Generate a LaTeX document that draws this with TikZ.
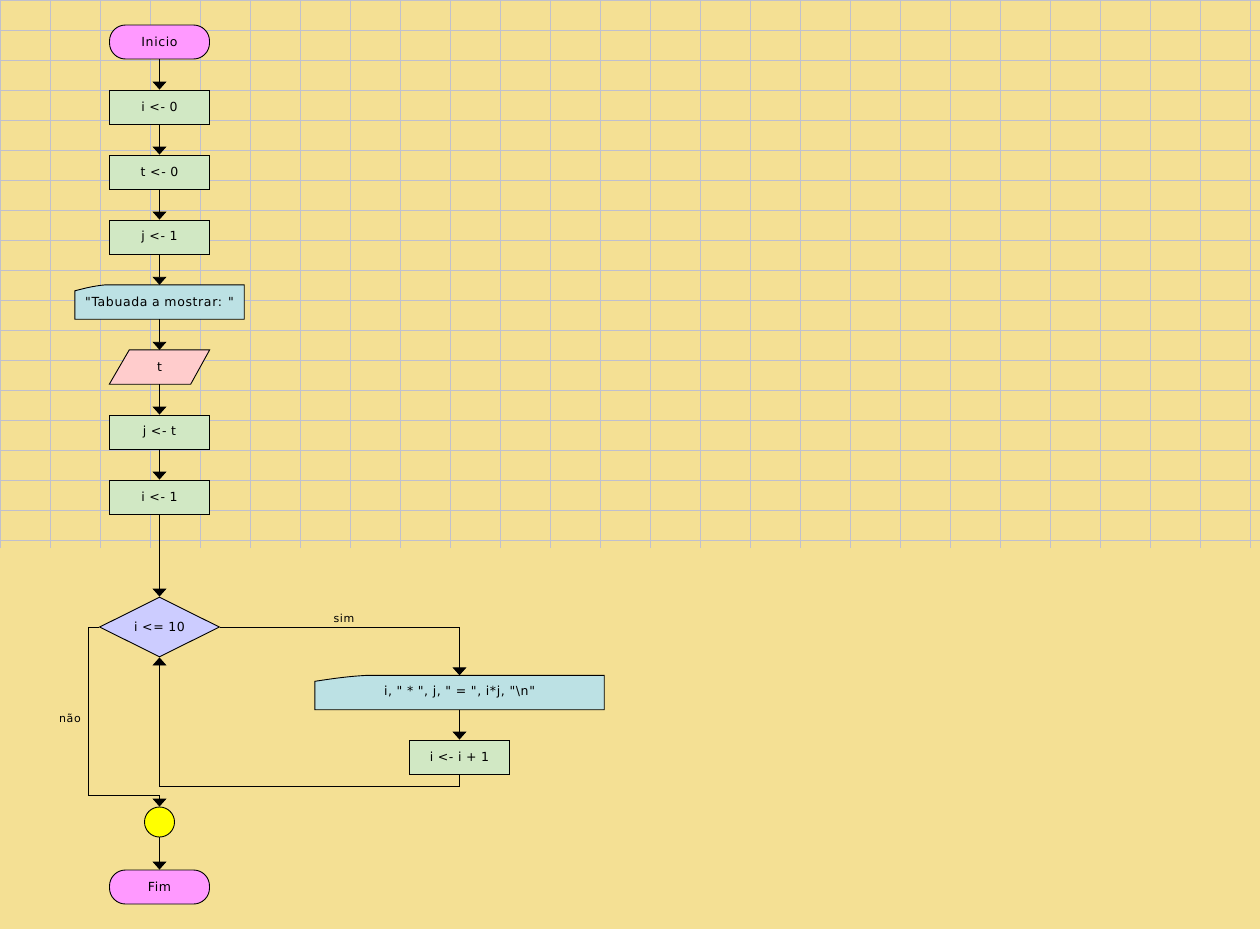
\documentclass[tikz,border=0pt]{standalone}
\usepackage{fontspec}
\usetikzlibrary{arrows.meta,shapes.geometric,calc,backgrounds}
\newfontfamily\flowfont{DejaVu Sans}[LetterSpace=5]

\definecolor{paper}{RGB}{244,224,148}
\definecolor{gridline}{RGB}{192,192,206}
\definecolor{termfill}{RGB}{255,153,255}
\definecolor{procfill}{RGB}{209,232,196}
\definecolor{dispfill}{RGB}{188,225,228}
\definecolor{inpfill}{RGB}{255,204,204}
\definecolor{decfill}{RGB}{204,204,255}
\definecolor{joinfill}{RGB}{255,255,0}

% display symbol: rectangle with a curved cut at the upper left corner
\newcommand\flowdisp[2]{%
  \draw[line width=0.9pt, fill=dispfill]
    (#1.south west) -- (#1.south east) -- (#1.north east)
    -- ($(#1.north west)+(#2,0)$)
    .. controls ($(#1.north west)+(0.55*#2,1.2)$) and ($(#1.north west)+(0.2*#2,4.5)$)
    .. ($(#1.north west)+(0,6)$) -- cycle;}

\begin{document}
\begin{tikzpicture}[x=1pt,y=-1pt,
  every node/.style={font=\flowfont\fontsize{12.5}{14}\selectfont, text=black, inner sep=0pt},
  outline/.style={draw=black, line width=0.9pt},
  termbox/.style={outline, fill=termfill, rectangle, rounded corners=16pt,
    minimum width=100pt, minimum height=34pt},
  procbox/.style={outline, fill=procfill, rectangle, minimum width=100pt, minimum height=34pt},
  dispbox/.style={rectangle, minimum height=34pt},
  inpbox/.style={rectangle, minimum width=100pt, minimum height=34pt},
  decbox/.style={outline, fill=decfill, diamond, aspect=2, minimum width=120pt, minimum height=60pt},
  joinbox/.style={outline, fill=joinfill, circle, minimum size=30pt},
  lbl/.style={font=\flowfont\fontsize{11}{13}\selectfont},
  arr/.style={draw=black, line width=0.9pt, -{Triangle[width=14pt,length=8pt]}},
  wire/.style={draw=black, line width=0.9pt}]

\useasboundingbox (0,0) rectangle (1260,929);

% nodes
\node[termbox] (start) at (159.5,42) {Inicio};
\node[procbox] (i0) at (159.5,107) {i <- 0};
\node[procbox] (t0) at (159.5,172) {t <- 0};
\node[procbox] (j1) at (159.5,237) {j <- 1};
\node[dispbox, minimum width=169pt] (ask) at (159.5,302) {"Tabuada a mostrar: "};
\node[inpbox] (readt) at (159.5,367) {t};
\node[procbox] (jt) at (159.5,432) {j <- t};
\node[procbox] (i1) at (159.5,497) {i <- 1};
\node[decbox] (cond) at (159.5,627) {i <= 10};
\node[dispbox, minimum width=289pt] (row) at (459.5,692.5) {i, " * ", j, " = ", i*j, "\textbackslash n"};
\node[procbox] (incr) at (459.5,757) {i <- i + 1};
\node[joinbox] (join) at (159.5,822) {};
\node[termbox] (finish) at (159.5,887) {Fim};

\begin{scope}[on background layer]
  \fill[paper] (0,0) rectangle (1260,929);
  % squared paper in the upper part
  \foreach \gx in {0,50,...,1250} \draw[gridline, line width=1pt] (\gx,0) -- (\gx,547.5);
  \foreach \gy in {0,30,...,540} \draw[gridline, line width=1pt] (0,\gy) -- (1260,\gy);
  % custom outlines behind their texts
  \flowdisp{ask}{31}
  \flowdisp{row}{53}
  \draw[line width=0.9pt, fill=inpfill]
    ($(readt.north west)+(20,0)$) -- (readt.north east)
    -- ($(readt.south east)+(-19,0)$) -- (readt.south west) -- cycle;
\end{scope}

% connectors
\draw[arr] (start) -- (i0);
\draw[arr] (i0) -- (t0);
\draw[arr] (t0) -- (j1);
\draw[arr] (j1) -- (ask);
\draw[arr] (ask) -- (readt);
\draw[arr] (readt) -- (jt);
\draw[arr] (jt) -- (i1);
\draw[arr] (i1) -- (cond);
\draw[arr] (cond.east) -| (row.north);
\node[lbl] (yes) at (344,618) {sim};
\draw[arr] (row) -- (incr);
\coordinate (back) at (159.5,786);
\draw[arr] (incr.south) |- (back) -- (cond.south);
\coordinate (nolane) at (88,795);
\draw[arr] (cond.west) -| (nolane) -- (join.north |- nolane) -- (join.north);
\node[lbl] (no) at (70,718) {não};
\draw[arr] (join) -- (finish);
\end{tikzpicture}
\end{document}
